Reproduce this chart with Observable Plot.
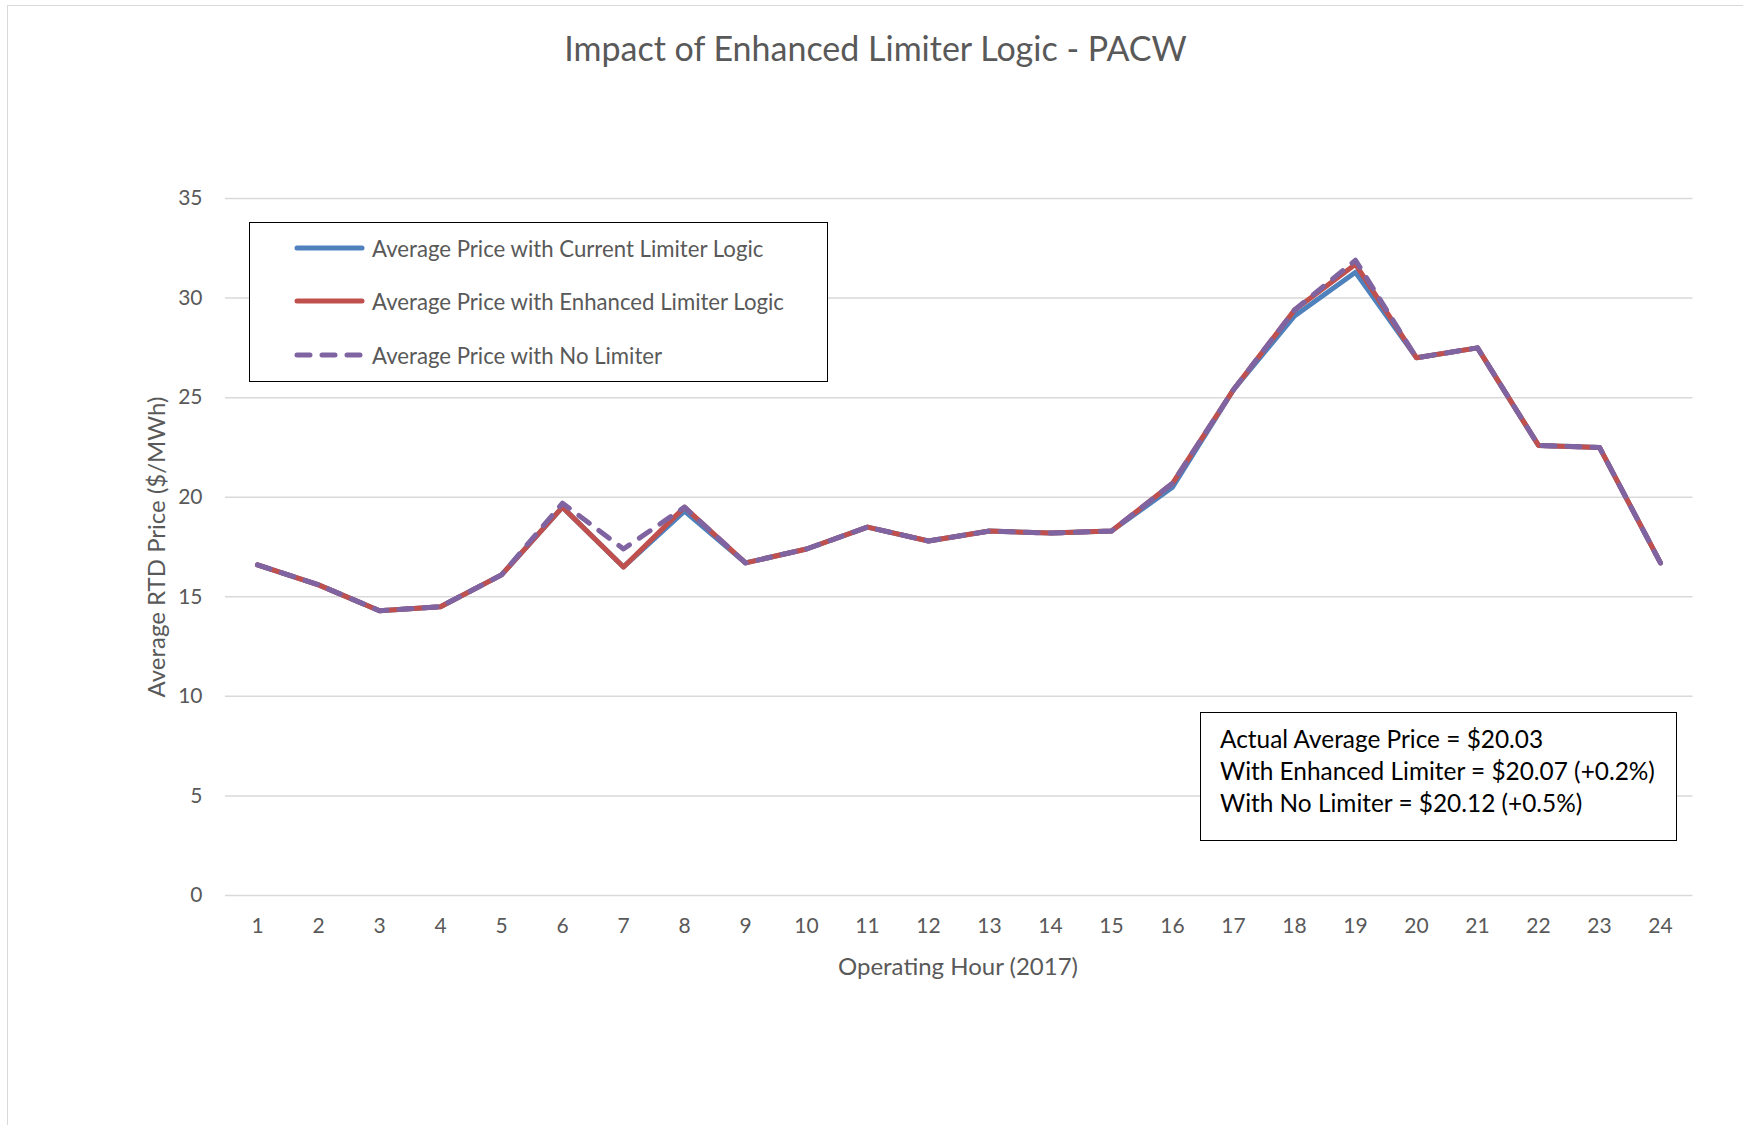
<!DOCTYPE html>
<html>
<head>
<meta charset="utf-8">
<script src="https://cdn.jsdelivr.net/npm/d3@7"></script>
<script src="https://cdn.jsdelivr.net/npm/@observablehq/plot@0.6"></script>
<style>
html, body { margin: 0; padding: 0; background: #fff; overflow: hidden; }
#wrap { position: relative; width: 1743px; height: 1125px; overflow: hidden; font-family: Lato, "Open Sans", sans-serif; }
#wrap svg { position: absolute; left: 0; top: 0; }
#frame { position: absolute; left: 7px; top: 5px; width: 1800px; height: 1200px; border: 1.5px solid #d9d9d9; pointer-events: none; box-sizing: border-box; }
.abs { position: absolute; white-space: nowrap; }
#title { left: 4px; width: 1743px; top: 28px; text-align: center; font-size: 34px; color: #595959; line-height: 40px; }
#ylabel { left: 155px; top: 547px; transform: translate(-50%, -50%) rotate(-90deg); font-size: 24px; color: #595959; }
#xlabel { left: 958px; top: 965px; transform: translate(-50%, -50%); font-size: 24px; color: #595959; }
#legend { left: 249px; top: 222px; width: 579px; height: 160px; border: 1.5px solid #000; box-sizing: border-box; background: #fff; }
.lrow { position: absolute; left: 0; height: 30px; display: flex; align-items: center; }
.lrow svg { position: static !important; }
.lrow span { font-size: 22.2px; color: #595959; margin-left: 2px; }
#note { left: 1200px; top: 712px; width: 477px; height: 129px; border: 1.5px solid #000; box-sizing: border-box; background: #fff; }
#note div { position: absolute; left: 19px; font-size: 24.4px; color: #000; line-height: 30px; }
</style>
</head>
<body>
<div id="wrap">
  <div id="plot"></div>
  <div id="title" class="abs">Impact of Enhanced Limiter Logic - PACW</div>
  <div id="ylabel" class="abs">Average RTD Price ($/MWh)</div>
  <div id="xlabel" class="abs">Operating Hour (2017)</div>
  <div id="legend" class="abs"></div>
  <div id="note" class="abs"></div>
  <div id="frame"></div>
</div>
<script>
// ---- Data ----
const hours = [1,2,3,4,5,6,7,8,9,10,11,12,13,14,15,16,17,18,19,20,21,22,23,24];
const currentLogic  = [16.6,15.6,14.3,14.5,16.1,19.5,16.5,19.3,16.7,17.4,18.5,17.8,18.3,18.2,18.3,20.5,25.4,29.1,31.3,27.0,27.5,22.6,22.5,16.7];
const enhancedLogic = [16.6,15.6,14.3,14.5,16.1,19.5,16.5,19.5,16.7,17.4,18.5,17.8,18.3,18.2,18.3,20.7,25.4,29.4,31.7,27.0,27.5,22.6,22.5,16.7];
const noLimiter     = [16.6,15.6,14.3,14.5,16.1,19.7,17.4,19.5,16.7,17.4,18.5,17.8,18.3,18.2,18.3,20.7,25.4,29.4,31.9,27.0,27.5,22.6,22.5,16.7];
const yTicks = [0,5,10,15,20,25,30,35];
const seriesNames = [
  "Average Price with Current Limiter Logic",
  "Average Price with Enhanced Limiter Logic",
  "Average Price with No Limiter"
];
const seriesColors = ["#4F81BD", "#C0504D", "#8064A2"];
const noteLines = [
  "Actual Average Price = $20.03",
  "With Enhanced Limiter = $20.07 (+0.2%)",
  "With No Limiter = $20.12 (+0.5%)"
];

const toRows = (vals) => hours.map((h, i) => ({hour: h, value: vals[i]}));

const lineOpts = {x: "hour", y: "value", strokeWidth: 5, strokeLinejoin: "round", strokeLinecap: "round"};

const chart = Plot.plot({
  width: 1743,
  height: 1125,
  marginLeft: 225,
  marginRight: 50.5,
  marginTop: 198,
  marginBottom: 230,
  style: {fontFamily: "Lato, 'Open Sans', sans-serif", fontSize: "21px", color: "#595959", background: "none"},
  x: {type: "point", domain: hours, padding: 0.5},
  y: {domain: [0, 35]},
  marks: [
    Plot.ruleY(yTicks, {stroke: "#d9d9d9", strokeWidth: 1.5}),
    Plot.axisY({ticks: yTicks, tickSize: 0, tickPadding: 23, label: null}),
    Plot.axisX({tickSize: 0, tickPadding: 23, label: null}),
    Plot.line(toRows(currentLogic), {...lineOpts, stroke: seriesColors[0]}),
    Plot.line(toRows(enhancedLogic), {...lineOpts, stroke: seriesColors[1]}),
    Plot.line(toRows(noLimiter), {...lineOpts, stroke: seriesColors[2], strokeDasharray: "13,12"})
  ]
});
document.getElementById("plot").appendChild(chart);

// Legend
const legend = document.getElementById("legend");
const rowTops = [10, 63, 117];
seriesNames.forEach((name, i) => {
  const row = document.createElement("div");
  row.className = "lrow";
  row.style.top = rowTops[i] + "px";
  row.style.left = "44px";
  const dash = i === 2 ? 'stroke-dasharray="13,12"' : '';
  row.innerHTML = `<svg width="76" height="30"><line x1="3" y1="15" x2="68" y2="15" stroke="${seriesColors[i]}" stroke-width="5" stroke-linecap="round" ${dash}/></svg><span>${name}</span>`;
  legend.appendChild(row);
});

// Note box
const note = document.getElementById("note");
noteLines.forEach((t, i) => {
  const d = document.createElement("div");
  d.textContent = t;
  d.style.top = (11 + i * 32) + "px";
  note.appendChild(d);
});
</script>
</body>
</html>
